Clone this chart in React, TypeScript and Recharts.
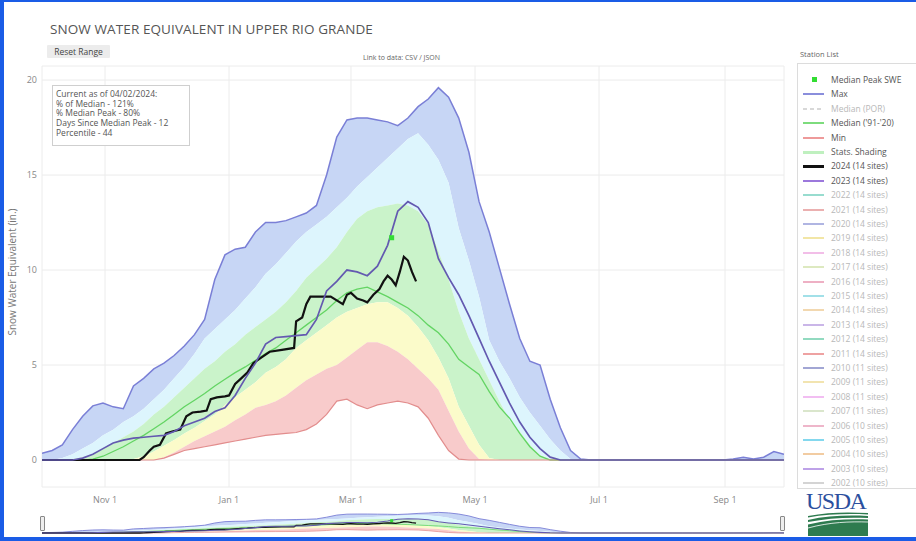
import React from 'react';
import { ComposedChart, Area, Line, Scatter, XAxis, YAxis, CartesianGrid } from 'recharts';

// Day of water year (0 = Oct 1, 2023)
const days = [0,5,10,15,20,25,30,35,40,45,50,55,60,65,70,75,80,85,90,95,100,105,110,115,120,125,130,135,140,145,150,155,160,165,170,175,180,185,190,195,200,205,210,215,220,225,230,235,240,245,250,255,260,265,270,275,280,285,290,295,300,305,310,315,320,325,330,335,340,345,350,355,360,365];

const maxSwe = [0.35,0.5,0.8,1.6,2.3,2.85,3.0,2.8,2.7,3.9,
 4.3,4.8,5.1,5.5,6.0,6.6,7.4,9.5,10.8,11.1,
 11.2,12.0,12.5,12.5,12.6,12.8,13.0,13.4,15.0,17.0,
 17.9,18.0,18.0,17.9,17.8,17.6,18.0,18.6,19.0,19.6,
 19.1,18.0,16.2,13.6,12.0,10.1,8.2,6.4,5.2,5.0,
 3.2,1.7,0.5,0.05,0,0,0,0,0,0,
 0,0,0,0,0,0,0,0,0.05,0.15,
 0.05,0.15,0.45,0.3];

const p90 = [0,0,0.1,0.3,0.6,0.9,1.3,1.6,2.0,2.3,
 2.7,3.2,3.7,4.3,4.9,5.6,6.4,6.9,7.4,7.9,
 8.5,9.1,9.8,10.3,10.9,11.5,12.0,12.4,12.8,13.3,
 13.8,14.4,14.9,15.4,15.9,16.4,16.9,17.2,16.6,15.8,
 14.6,12.2,10.5,8.6,6.3,5.2,4.3,3.3,2.5,1.8,
 1.1,0.5,0.05,0,0,0,0,0,0,0,
 0,0,0,0,0,0,0,0,0,0,
 0,0,0,0];

const p70 = [0,0,0,0.05,0.15,0.3,0.6,0.9,1.2,1.5,
 1.9,2.4,2.8,3.3,3.8,4.3,4.8,5.2,5.7,6.1,
 6.6,7.0,7.4,7.8,8.3,8.9,9.6,10.1,10.6,11.2,
 12.0,12.7,13.1,13.3,13.4,13.5,13.4,13.1,12.4,11.0,
 9.5,7.8,6.4,5.3,4.2,3.1,2.1,1.5,0.8,0.25,
 0.05,0,0,0,0,0,0,0,0,0,
 0,0,0,0,0,0,0,0,0,0,
 0,0,0,0];

const p30 = [0,0,0,0,0,0,0,0,0,0.05,
 0.2,0.45,0.75,1.05,1.4,1.7,2.05,2.4,2.9,3.3,
 3.7,4.1,4.6,4.9,5.3,5.9,6.3,6.7,7.1,7.5,
 7.8,8.0,8.2,8.3,8.3,8.0,7.6,7.0,6.3,5.4,
 4.3,2.8,1.8,0.8,0.1,0,0,0,0,0,
 0,0,0,0,0,0,0,0,0,0,
 0,0,0,0,0,0,0,0,0,0,
 0,0,0,0];

const p10 = [0,0,0,0,0,0,0,0,0,0,
 0,0,0.15,0.4,0.7,1.0,1.25,1.5,1.75,2.1,
 2.4,2.75,2.9,3.1,3.4,3.8,4.2,4.5,4.8,5.0,
 5.4,5.8,6.2,6.2,6.0,5.7,5.3,4.8,4.3,3.7,
 2.6,1.5,0.6,0.05,0,0,0,0,0,0,
 0,0,0,0,0,0,0,0,0,0,
 0,0,0,0,0,0,0,0,0,0,
 0,0,0,0];

const minSwe = [0,0,0,0,0,0,0,0,0,0,
 0,0,0.1,0.3,0.5,0.6,0.7,0.8,0.9,1.0,
 1.1,1.2,1.3,1.35,1.4,1.45,1.6,1.9,2.4,3.1,
 3.2,2.9,2.7,2.9,3.0,3.1,3.0,2.8,2.2,1.3,
 0.5,0.05,0,0,0,0,0,0,0,0,
 0,0,0,0,0,0,0,0,0,0,
 0,0,0,0,0,0,0,0,0,0,
 0,0,0,0];

const median = [0,0,0,0,0,0.05,0.2,0.45,0.7,1.0,
 1.3,1.65,2.0,2.4,2.8,3.15,3.5,3.9,4.25,4.6,
 4.9,5.25,5.6,5.9,6.3,6.7,7.1,7.5,7.9,8.4,
 8.8,9.0,9.1,8.85,8.6,8.3,8.0,7.6,7.1,6.7,
 6.1,5.3,4.9,4.5,3.6,2.8,2.2,1.4,0.7,0.2,
 0,0,0,0,0,0,0,0,0,0,
 0,0,0,0,0,0,0,0,0,0,
 0,0,0,0];

const wy2023 = [0,0,0,0,0.1,0.3,0.6,0.9,1.05,1.15,
 1.2,1.25,1.3,1.5,1.8,2.0,2.2,2.55,2.75,3.4,
 4.3,5.1,6.1,6.45,6.5,6.55,6.6,7.4,8.9,9.4,
 10.0,9.9,9.7,10.2,11.3,13.1,13.6,13.3,12.5,10.6,
 9.6,8.7,7.6,6.4,5.2,4.1,3.0,2.0,1.2,0.6,
 0.15,0,0,0,0,0,0,0,0,0,
 0,0,0,0,0,0,0,0,0,0,
 0,0,0,0];

const days2024 = [0,48,50,53,55,58,61,64,68,71,74,78,81,83,86,90,92,95,98,101,104,108,112,118,124,125,128,130,132,137,142,145,148,150,152,155,158,160,163,166,168,170,172,174,176,178,180,182,184];
const wy2024 = [0,0,0.15,0.5,0.7,0.8,1.4,1.5,1.6,2.3,2.5,2.55,2.6,3.2,3.3,3.35,3.4,4.0,4.3,4.6,5.1,5.4,5.7,5.8,5.9,7.3,7.5,8.2,8.6,8.6,8.6,8.4,8.2,8.7,8.8,8.5,8.4,8.3,8.7,9.0,9.4,9.7,9.5,9.2,9.9,10.7,10.5,9.9,9.4];

const peakDay = [172];
const peakSwe = [11.7];

const tickDays = [31, 92, 152, 213, 274, 336];
const tickLabels = ['Nov 1', 'Jan 1', 'Mar 1', 'May 1', 'Jul 1', 'Sep 1'];
const yTicks = [0, 5, 10, 15, 20];

const infoLines = [
  'Current as of 04/02/2024:',
  '% of Median - 121%',
  '% Median Peak - 80%',
  'Days Since Median Peak - 12',
  'Percentile - 44',
];

const legendNames = [
  'Median Peak SWE', 'Max', 'Median (POR)', "Median ('91-'20)", 'Min', 'Stats. Shading',
  '2024 (14 sites)', '2023 (14 sites)', '2022 (14 sites)', '2021 (14 sites)', '2020 (14 sites)',
  '2019 (14 sites)', '2018 (14 sites)', '2017 (14 sites)', '2016 (14 sites)', '2015 (14 sites)',
  '2014 (14 sites)', '2013 (14 sites)', '2012 (14 sites)', '2011 (14 sites)', '2010 (11 sites)',
  '2009 (11 sites)', '2008 (11 sites)', '2007 (11 sites)', '2006 (10 sites)', '2005 (10 sites)',
  '2004 (10 sites)', '2003 (10 sites)', '2002 (10 sites)',
];

// style config for legend
const legendStyle: { color: string; kind: string; active: boolean }[] = [
  { color: '#33dd33', kind: 'marker', active: true },
  { color: '#8a8edc', kind: 'line', active: true },
  { color: '#d8d8d8', kind: 'dash', active: false },
  { color: '#7ddc7d', kind: 'line', active: true },
  { color: '#ee9a9a', kind: 'line', active: true },
  { color: '#bff0bf', kind: 'band', active: true },
  { color: '#111111', kind: 'thick', active: true },
  { color: '#9c78dc', kind: 'line', active: true },
  { color: '#98dccf', kind: 'line', active: false },
  { color: '#ebb0b0', kind: 'line', active: false },
  { color: '#b0b5e2', kind: 'line', active: false },
  { color: '#f2e6a6', kind: 'line', active: false },
  { color: '#f2bee8', kind: 'line', active: false },
  { color: '#dde9c0', kind: 'line', active: false },
  { color: '#eeb0c4', kind: 'line', active: false },
  { color: '#a2e0e8', kind: 'line', active: false },
  { color: '#f2d8b0', kind: 'line', active: false },
  { color: '#cab6e8', kind: 'line', active: false },
  { color: '#92dac0', kind: 'line', active: false },
  { color: '#eea2a2', kind: 'line', active: false },
  { color: '#a2a6d4', kind: 'line', active: false },
  { color: '#f2e4b0', kind: 'line', active: false },
  { color: '#f2bef2', kind: 'line', active: false },
  { color: '#dae6cc', kind: 'line', active: false },
  { color: '#eeb6ca', kind: 'line', active: false },
  { color: '#84d8ee', kind: 'line', active: false },
  { color: '#f2cca2', kind: 'line', active: false },
  { color: '#bea2e8', kind: 'line', active: false },
  { color: '#d4d4d4', kind: 'line', active: false },
];

const table = days.map((d, i) => ({
  day: d,
  bMax: [p90[i], maxSwe[i]],
  b90: [p70[i], p90[i]],
  b70: [p30[i], p70[i]],
  b30: [p10[i], p30[i]],
  b10: [minSwe[i], p10[i]],
  max: maxSwe[i],
  median: median[i],
  min: minSwe[i],
  y2023: wy2023[i],
}));

const data2024 = days2024.map((d, i) => ({ day: d, swe: wy2024[i] }));
const peakData = peakDay.map((d, i) => ({ day: d, swe: peakSwe[i] }));

const FONT = '"Open Sans", "DejaVu Sans", sans-serif';
const Y_DOMAIN: [number, number] = [-1.42, 20.74];
const MINI_DOMAIN: [number, number] = [-1.9, 26.6];

function renderSeries(mini: boolean) {
  const lw = mini ? 0.6 : 1;
  return [
    <Area key="bMax" dataKey="bMax" fill="#c7d6f5" fillOpacity={1} stroke="none" isAnimationActive={false} activeDot={false} />,
    <Area key="b90" dataKey="b90" fill="#ddf5fd" fillOpacity={1} stroke="none" isAnimationActive={false} activeDot={false} />,
    <Area key="b70" dataKey="b70" fill="#caf3ca" fillOpacity={1} stroke="none" isAnimationActive={false} activeDot={false} />,
    <Area key="b30" dataKey="b30" fill="#fbfbca" fillOpacity={1} stroke="none" isAnimationActive={false} activeDot={false} />,
    <Area key="b10" dataKey="b10" fill="#f8cbcb" fillOpacity={1} stroke="none" isAnimationActive={false} activeDot={false} />,
    <Line key="max" dataKey="max" stroke="#7a7fd6" strokeWidth={1.5 * lw} dot={false} activeDot={false} isAnimationActive={false} />,
    <Line key="median" dataKey="median" stroke="#63d463" strokeWidth={1.3 * lw} dot={false} activeDot={false} isAnimationActive={false} />,
    <Line key="min" dataKey="min" stroke="#e28d8d" strokeWidth={1.2 * lw} dot={false} activeDot={false} isAnimationActive={false} />,
    <Line key="y2024" data={data2024} dataKey="swe" stroke="#111111" strokeWidth={2.2 * lw} dot={false} activeDot={false} isAnimationActive={false} />,
    <Line key="y2023" dataKey="y2023" stroke="#6359b0" strokeWidth={1.7 * lw} dot={false} activeDot={false} isAnimationActive={false} />,
    <Scatter key="peak" data={peakData} dataKey="swe" fill="#33dd33" isAnimationActive={false}
      shape={(p: any) => {
        const s = mini ? 3 : 5;
        return <rect x={p.cx - s / 2} y={p.cy - s / 2} width={s} height={s} fill="#33dd33" />;
      }} />,
  ];
}

function LegendSymbol({ kind, color }: { kind: string; color: string }) {
  if (kind === 'marker') {
    return <div style={{ position: 'absolute', left: 9, top: -3, width: 5, height: 5, background: color }} />;
  }
  const h = kind === 'thick' ? 3 : kind === 'band' ? 3 : 2;
  const bg = kind === 'dash'
    ? `repeating-linear-gradient(90deg, ${color} 0 4px, transparent 4px 7px)`
    : color;
  return <div style={{ position: 'absolute', left: 0, top: -Math.floor(h / 2), width: 21, height: h, background: bg }} />;
}

export default function App() {
  return (
    <div style={{ position: 'absolute', left: 0, top: 0, width: 916, height: 541, background: '#fff', overflow: 'hidden', fontFamily: FONT }}>
      <div style={{ position: 'absolute', left: 0, top: 0 }}>
        <ComposedChart width={790} height={541} data={table} margin={{ top: 66, right: 6, left: 0, bottom: 0 }}>
          <CartesianGrid stroke="#ececec" strokeWidth={1} />
          <XAxis dataKey="day" type="number" domain={[0, 365]} ticks={tickDays} interval={0}
            tickFormatter={(v: number) => tickLabels[tickDays.indexOf(v)] ?? ''}
            height={54} tickLine={false} axisLine={false} tickSize={0} tickMargin={10}
            tick={{ fontSize: 9, fill: '#888', fontFamily: FONT }} allowDataOverflow />
          <YAxis type="number" domain={Y_DOMAIN} ticks={yTicks} interval={0} width={42}
            tickLine={false} axisLine={false} tickSize={0} tickMargin={5}
            tick={{ fontSize: 9, fill: '#888', fontFamily: FONT }} allowDataOverflow />
          {renderSeries(false)}
        </ComposedChart>
      </div>

      {/* range slider */}
      <div style={{ position: 'absolute', left: 42, top: 505 }}>
        <ComposedChart width={742} height={30} data={table} margin={{ top: 0, right: 0, left: 0, bottom: 0 }}>
          <XAxis dataKey="day" type="number" domain={[0, 365]} hide />
          <YAxis type="number" domain={MINI_DOMAIN} hide allowDataOverflow />
          {renderSeries(true)}
        </ComposedChart>
      </div>
      <div style={{ position: 'absolute', left: 40, top: 516, width: 3, height: 13, background: '#eee', border: '1px solid #888', borderRadius: 1 }} />
      <div style={{ position: 'absolute', left: 780, top: 516, width: 3, height: 13, background: '#eee', border: '1px solid #888', borderRadius: 1 }} />

      {/* title */}
      <div style={{ position: 'absolute', left: 50, top: 20, fontSize: 13.5, color: '#555', whiteSpace: 'nowrap', letterSpacing: 0.1 }}>
        SNOW WATER EQUIVALENT IN UPPER RIO GRANDE
      </div>
      <div style={{ position: 'absolute', left: 47, top: 45, width: 63, height: 13, background: '#ececec', fontSize: 8.5, color: '#444', lineHeight: '13px', textAlign: 'center', borderRadius: 1 }}>
        Reset Range
      </div>
      <div style={{ position: 'absolute', left: 363, top: 53, fontSize: 7, color: '#666', whiteSpace: 'nowrap' }}>
        Link to data: CSV / JSON
      </div>

      {/* y axis title */}
      <div style={{ position: 'absolute', left: 12, top: 272, transform: 'translate(-50%, -50%) rotate(-90deg)', fontSize: 10, color: '#777', whiteSpace: 'nowrap' }}>
        Snow Water Equivalent (in.)
      </div>

      {/* info box */}
      <div style={{ position: 'absolute', left: 52, top: 85, width: 138, height: 61, border: '1px solid #cfcfcf', background: '#fff', padding: '3px 0 0 3px', boxSizing: 'border-box' }}>
        {infoLines.map((t, i) => (
          <div key={i} style={{ fontSize: 8.5, lineHeight: '9.7px', color: '#555', whiteSpace: 'nowrap' }}>{t}</div>
        ))}
      </div>

      {/* legend */}
      <div style={{ position: 'absolute', left: 800, top: 49, fontSize: 7.5, color: '#666', whiteSpace: 'nowrap' }}>Station List</div>
      <div style={{ position: 'absolute', left: 797, top: 63, width: 130, height: 424, border: '1px solid #dcdcdc', background: '#fff', overflow: 'hidden' }}>
        {legendNames.map((name, i) => {
          const st = legendStyle[i];
          const cy = Math.round(16 + 14.4 * i);
          return (
            <div key={name} style={{ position: 'absolute', left: 5, top: cy, width: 120 }}>
              <LegendSymbol kind={st.kind} color={st.color} />
              <div style={{ position: 'absolute', left: 28, top: -6, fontSize: 8.5, lineHeight: '12px', color: st.active ? '#555' : '#b8b8b8', whiteSpace: 'nowrap' }}>{name}</div>
            </div>
          );
        })}
      </div>

      {/* USDA logo */}
      <div style={{ position: 'absolute', left: 806, top: 488, fontFamily: '"Liberation Serif", serif', fontSize: 24, color: '#2c4f9e', letterSpacing: -1.5, lineHeight: '26px' }}>USDA</div>
      <svg style={{ position: 'absolute', left: 808, top: 512 }} width={60} height={24} viewBox="0 0 60 24">
        <path d="M0,4 C20,0 40,0 60,1 L60,2.5 C40,1.5 20,2 0,5.5 Z" fill="#2e7b4f" />
        <path d="M0,8 C20,3.5 40,3 60,4 L60,6 C40,5 20,6 0,10 Z" fill="#2e7b4f" />
        <path d="M0,12.5 C20,7.5 40,7 60,7.5 L60,24 L0,24 Z" fill="#2e7b4f" />
        <path d="M0,16 C22,10 42,9.5 60,10" stroke="#fff" strokeWidth={0.8} fill="none" />
      </svg>

      {/* blue frame */}
      <div style={{ position: 'absolute', left: 0, top: 0, width: 4, height: 541, background: '#1a5ce6' }} />
      <div style={{ position: 'absolute', left: 0, top: 0, width: 916, height: 2, background: '#1a5ce6' }} />
      <div style={{ position: 'absolute', left: 0, top: 537, width: 916, height: 4, background: '#1a5ce6' }} />
    </div>
  );
}
